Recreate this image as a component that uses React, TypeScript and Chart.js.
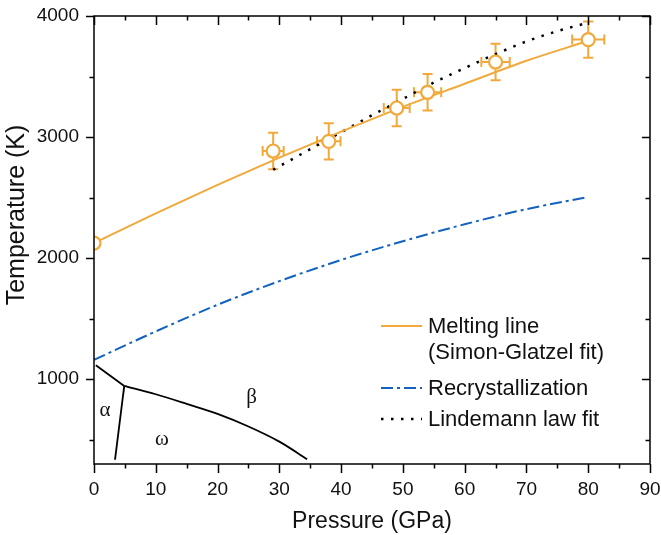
import React, { useEffect, useRef } from 'react';
import { Chart, registerables } from 'chart.js';
Chart.register(...registerables);

// ---- Axis settings ----
const xMin = 0;
const xMax = 90;
const xMajor = 10;
const xMinor = 5;
const yMin = 300;
const yMax = 4000;
const yMajor = 1000;
const yMinor = 500;
const yTickValues = [1000, 2000, 3000, 4000];

// ---- Melting line (Simon-Glatzel fit) ----
const meltP = [0, 10, 20, 30, 40, 50, 60, 70, 80];
const meltT = [2125, 2370, 2605, 2830, 3045, 3250, 3440, 3630, 3795];

// ---- Experimental melting points with error bars ----
const expP = [0, 29, 38, 49, 54, 65, 80];
const expT = [2125, 2885, 2965, 3240, 3370, 3620, 3805];
const expErrP = [0, 1.7, 1.9, 2.1, 2.2, 2.3, 2.6];
const expErrT = [0, 150, 150, 150, 150, 150, 150];

// ---- Recrystallization ----
const recP = [0, 10, 20, 30, 40, 50, 60, 70, 79.5];
const recT = [1160, 1395, 1615, 1810, 1985, 2140, 2280, 2405, 2500];

// ---- Lindemann law fit ----
const linP = [29, 35, 40, 45, 50, 55, 60, 65, 70, 75, 80];
const linT = [2730, 2900, 3040, 3180, 3315, 3450, 3570, 3685, 3790, 3875, 3945];

// ---- Solid phase boundaries ----
const abP = [0.3, 4.9];
const abT = [1115, 945];
const awP = [4.9, 3.4];
const awT = [945, 335];
const wbP = [4.9, 10, 15, 20, 25, 30, 34.5];
const wbT = [945, 876, 797, 714, 610, 485, 340];

// ---- Phase labels ----
const phaseLabels = ['α', 'ω', 'β'];
const phaseP = [1.8, 11, 25.5];
const phaseT = [740, 505, 850];

// ---- Legend / titles ----
const legendLabels = [['Melting line', '(Simon-Glatzel fit)'], ['Recrystallization'], ['Lindemann law fit']];
const xTitle = 'Pressure (GPa)';
const yTitle = 'Temperature (K)';

const ORANGE = '#F2A93B';
const BLUE = '#1262BE';
const BLACK = '#000000';
const SANS = '"Liberation Sans", Arial, sans-serif';
const SERIF = '"Liberation Serif", "Times New Roman", serif';

const pts = (xs: number[], ys: number[]) => xs.map((x, i) => ({ x, y: ys[i] }));

const errorBarPlugin = {
  id: 'errorBars',
  beforeDatasetsDraw(chart: any) {
    const { ctx, scales } = chart;
    const x = scales.x;
    const y = scales.y;
    ctx.save();
    ctx.strokeStyle = ORANGE;
    ctx.lineWidth = 2;
    const cap = 5;
    expP.forEach((p, i) => {
      const t = expT[i];
      const ex = expErrP[i];
      const ey = expErrT[i];
      const px = x.getPixelForValue(p);
      const py = y.getPixelForValue(t);
      if (ey > 0) {
        const y1 = y.getPixelForValue(t - ey);
        const y2 = y.getPixelForValue(t + ey);
        ctx.beginPath();
        ctx.moveTo(px, y1); ctx.lineTo(px, y2);
        ctx.moveTo(px - cap, y1); ctx.lineTo(px + cap, y1);
        ctx.moveTo(px - cap, y2); ctx.lineTo(px + cap, y2);
        ctx.stroke();
      }
      if (ex > 0) {
        const x1 = x.getPixelForValue(p - ex);
        const x2 = x.getPixelForValue(p + ex);
        ctx.beginPath();
        ctx.moveTo(x1, py); ctx.lineTo(x2, py);
        ctx.moveTo(x1, py - cap); ctx.lineTo(x1, py + cap);
        ctx.moveTo(x2, py - cap); ctx.lineTo(x2, py + cap);
        ctx.stroke();
      }
    });
    ctx.restore();
  },
};

const framePlugin = {
  id: 'frameTicks',
  afterDraw(chart: any) {
    const { ctx, chartArea: a, scales } = chart;
    const x = scales.x;
    const y = scales.y;
    ctx.save();
    ctx.strokeStyle = BLACK;
    ctx.lineWidth = 1.5;
    ctx.strokeRect(a.left, a.top, a.right - a.left, a.bottom - a.top);
    ctx.beginPath();
    for (let v = xMin; v <= xMax + 1e-9; v += xMinor) {
      const px = Math.round(x.getPixelForValue(v)) + 0.5;
      const major = Math.abs(v % xMajor) < 1e-9;
      const len = major ? 9 : 4.5;
      ctx.moveTo(px, a.bottom); ctx.lineTo(px, a.bottom + len);
      ctx.moveTo(px, a.top); ctx.lineTo(px, a.top + len);
    }
    for (let v = yMinor; v <= yMax + 1e-9; v += yMinor) {
      const py = Math.round(y.getPixelForValue(v)) + 0.5;
      const major = Math.abs(v % yMajor) < 1e-9;
      const len = major ? 8 : 4.5;
      ctx.moveTo(a.left - len, py); ctx.lineTo(a.left, py);
      ctx.moveTo(a.right - len, py); ctx.lineTo(a.right, py);
    }
    ctx.stroke();

    // y-axis title
    ctx.fillStyle = '#111';
    ctx.font = `25px ${SANS}`;
    ctx.textAlign = 'center';
    ctx.textBaseline = 'middle';
    ctx.translate(17, a.top + 199);
    ctx.rotate(-Math.PI / 2);
    ctx.fillText(yTitle, 0, 0);
    ctx.restore();
  },
};

const labelPlugin = {
  id: 'phaseLabels',
  afterDatasetsDraw(chart: any) {
    const { ctx, scales } = chart;
    ctx.save();
    ctx.fillStyle = '#111';
    ctx.font = `21px ${SERIF}`;
    ctx.textAlign = 'center';
    ctx.textBaseline = 'middle';
    phaseLabels.forEach((s, i) => {
      ctx.fillText(s, scales.x.getPixelForValue(phaseP[i]), scales.y.getPixelForValue(phaseT[i]));
    });
    ctx.restore();
  },
};

const legendPlugin = {
  id: 'customLegend',
  afterDraw(chart: any) {
    const { ctx, chartArea: a } = chart;
    const x0 = a.right - 269;
    const x1 = a.right - 228;
    const tx = a.right - 222;
    const rows = [a.top + 311, a.top + 373, a.top + 404];
    const styles = [
      { color: ORANGE, dash: [] as number[] },
      { color: BLUE, dash: [12, 4, 3, 4] },
      { color: BLACK, dash: [2.5, 7.5] },
    ];
    ctx.save();
    ctx.font = `22px ${SANS}`;
    ctx.fillStyle = '#111';
    ctx.textAlign = 'left';
    ctx.textBaseline = 'middle';
    legendLabels.forEach((lines, i) => {
      const ry = rows[i];
      ctx.beginPath();
      ctx.strokeStyle = styles[i].color;
      ctx.lineWidth = i === 2 ? 2.5 : 2;
      ctx.setLineDash(styles[i].dash);
      ctx.moveTo(x0, ry - 1);
      ctx.lineTo(x1, ry - 1);
      ctx.stroke();
      ctx.setLineDash([]);
      lines.forEach((l, j) => ctx.fillText(l, tx, ry + j * 26));
    });
    ctx.restore();
  },
};

export default function App() {
  const ref = useRef<HTMLCanvasElement>(null);
  useEffect(() => {
    const canvas = ref.current!;
    const chart = new Chart(canvas, {
      type: 'line',
      data: {
        datasets: [
          {
            label: 'Experimental',
            data: pts(expP, expT),
            showLine: false,
            pointRadius: 6.5,
            pointHoverRadius: 6.5,
            pointBorderWidth: 2.2,
            pointBorderColor: ORANGE,
            pointBackgroundColor: '#ffffff',
            borderColor: ORANGE,
          },
          {
            label: 'Melting line (Simon-Glatzel fit)',
            data: pts(meltP, meltT),
            borderColor: ORANGE,
            borderWidth: 2,
            pointRadius: 0,
            cubicInterpolationMode: 'monotone',
          },
          {
            label: 'Lindemann law fit',
            data: pts(linP, linT),
            borderColor: BLACK,
            borderWidth: 2.5,
            borderDash: [2.5, 7.5],
            pointRadius: 0,
            cubicInterpolationMode: 'monotone',
          },
          {
            label: 'Recrystallization',
            data: pts(recP, recT),
            borderColor: BLUE,
            borderWidth: 2,
            borderDash: [12, 4, 3, 4],
            pointRadius: 0,
            cubicInterpolationMode: 'monotone',
          },
          {
            label: 'alpha-beta',
            data: pts(abP, abT),
            borderColor: BLACK,
            borderWidth: 1.8,
            pointRadius: 0,
          },
          {
            label: 'alpha-omega',
            data: pts(awP, awT),
            borderColor: BLACK,
            borderWidth: 1.8,
            pointRadius: 0,
          },
          {
            label: 'omega-beta',
            data: pts(wbP, wbT),
            borderColor: BLACK,
            borderWidth: 1.8,
            pointRadius: 0,
            cubicInterpolationMode: 'monotone',
          },
        ],
      },
      options: {
        responsive: false,
        animation: false,
        devicePixelRatio: 1,
        layout: { padding: { left: 0, right: 11, top: 16, bottom: 0 } },
        plugins: {
          legend: { display: false },
          tooltip: { enabled: false },
        },
        scales: {
          x: {
            type: 'linear',
            min: xMin,
            max: xMax,
            grid: { display: false, drawTicks: false },
            border: { display: false },
            ticks: {
              stepSize: xMajor,
              padding: 14,
              color: '#111',
              font: { family: SANS, size: 19 },
              maxRotation: 0,
              callback: (v: any) => String(v),
            },
            title: {
              display: true,
              text: xTitle,
              color: '#111',
              font: { family: SANS, size: 23 },
              padding: { top: 0, bottom: 0 },
            },
            afterFit: (s: any) => {
              s.height = 71;
              s.paddingLeft = 0;
              s.paddingRight = 0;
            },
          },
          y: {
            type: 'linear',
            min: yMin,
            max: yMax,
            grid: { display: false, drawTicks: false },
            border: { display: false },
            afterBuildTicks: (s: any) => {
              s.ticks = yTickValues.map((v) => ({ value: v }));
            },
            ticks: {
              padding: 15,
              color: '#111',
              font: { family: SANS, size: 19 },
              callback: (v: any) => String(v),
            },
            title: { display: false },
            afterFit: (s: any) => {
              s.width = 94;
              s.paddingTop = 0;
              s.paddingBottom = 0;
            },
          },
        },
      },
      plugins: [errorBarPlugin, labelPlugin, framePlugin, legendPlugin],
    } as any);
    return () => chart.destroy();
  }, []);
  return (
    <div style={{ position: 'absolute', left: 0, top: 0, width: 661, height: 535, background: '#fff' }}>
      <canvas ref={ref} width={661} height={535} style={{ display: 'block', width: 661, height: 535 }} />
    </div>
  );
}
